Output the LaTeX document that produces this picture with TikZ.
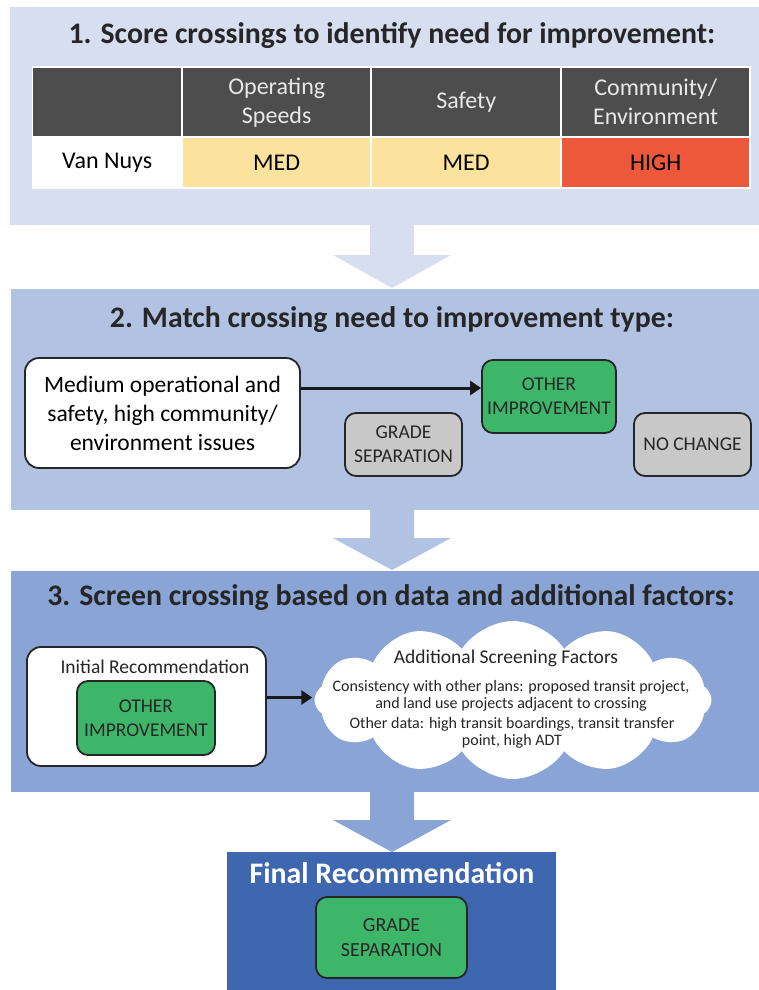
\documentclass[tikz,border=0pt]{standalone}
\usepackage{fontspec}
\setmainfont{Carlito}
\usetikzlibrary{shapes.symbols,arrows.meta}
\definecolor{pone}{RGB}{215,222,240}
\definecolor{ptwo}{RGB}{178,194,227}
\definecolor{pthree}{RGB}{138,164,214}
\definecolor{pfinal}{RGB}{63,103,176}
\definecolor{hdr}{RGB}{77,77,77}
\definecolor{hdrtext}{RGB}{232,232,232}
\definecolor{cyellow}{RGB}{252,227,157}
\definecolor{cred}{RGB}{238,88,58}
\definecolor{cgreen}{RGB}{61,182,106}
\definecolor{cgrey}{RGB}{200,200,200}
\definecolor{tdark}{RGB}{38,38,38}
\begin{document}
\begin{tikzpicture}[x=1pt,y=-1pt,
  panel/.style={inner sep=0pt, anchor=north west},
  ttl/.style={font=\bfseries\fontsize{29.8}{35}\selectfont, text=tdark, inner sep=0pt},
  cell/.style={inner sep=0pt, anchor=north west, align=center, font=\fontsize{24}{29}\selectfont},
  rbox/.style={draw=tdark, line width=1.8pt, rounded corners=11pt, align=center, inner sep=2pt},
  gbox/.style={rbox, fill=cgreen, text=tdark, font=\fontsize{19.5}{24}\selectfont},
  greybox/.style={rbox, fill=cgrey, text=tdark, font=\fontsize{19.5}{24}\selectfont},
  conn/.style={line width=3pt, draw=black!90, -{Triangle[length=11pt,width=14pt]}},
  small/.style={font=\fontsize{16}{17}\selectfont, align=center, inner sep=0pt, text=tdark}
]
\useasboundingbox (0,0) rectangle (759,990);
\fill[white] (0,0) rectangle (759,990);

% panels
\node[panel, fill=pone, minimum width=749pt, minimum height=218pt] (p1) at (10,7) {};
\node[panel, fill=ptwo, minimum width=748pt, minimum height=221pt] (p2) at (11,289) {};
\node[panel, fill=pthree, minimum width=748pt, minimum height=221pt] (p3) at (11,571) {};
\node[panel, fill=pfinal, minimum width=329pt, minimum height=140pt] (pf) at (227,852) {};

% big arrows
\fill[pone] (370,224) -- (414,224) -- (414,255) -- (451,255) -- (392,288) -- (333,255) -- (370,255) -- cycle;
\fill[ptwo] (370,509) -- (414,509) -- (414,538) -- (451,538) -- (392,570) -- (333,538) -- (370,538) -- cycle;
\fill[pthree] (370,791) -- (414,791) -- (414,820) -- (451,820) -- (392,852) -- (333,820) -- (370,820) -- cycle;

% titles
\node[ttl] (t1) at (392,36) {1. Score crossings to identify need for improvement:};
\node[ttl] (t2) at (392,320) {2. Match crossing need to improvement type:};
\node[ttl] (t3) at (391,598) {3. Screen crossing based on data and additional factors:};
\node[ttl, text=white] (tf) at (392,873) {Final Recommendation};

% table
\fill[white] (31.5,66.5) rectangle (750.5,188.5);
\node[cell, fill=hdr, minimum width=148pt, minimum height=68pt] (h0) at (33,68) {};
\node[cell, fill=hdr, text=hdrtext, minimum width=187pt, minimum height=68pt] (h1) at (183,68) {Operating\\Speeds};
\node[cell, fill=hdr, text=hdrtext, minimum width=188pt, minimum height=68pt] (h2) at (372,68) {Safety};
\node[cell, fill=hdr, text=hdrtext, minimum width=187pt, minimum height=68pt] (h3) at (562,68) {Community/\\Environment};
\node[cell, fill=white, text=black, minimum width=148pt, minimum height=49pt] (d0) at (33,138) {Van Nuys};
\node[cell, fill=cyellow, text=black, minimum width=187pt, minimum height=49pt] (d1) at (183,138) {MED};
\node[cell, fill=cyellow, text=black, minimum width=188pt, minimum height=49pt] (d2) at (372,138) {MED};
\node[cell, fill=cred, text=black, minimum width=187pt, minimum height=49pt] (d3) at (562,138) {HIGH};

% section 2
\node[rbox, fill=white, minimum width=275pt, minimum height=110pt, rounded corners=14pt,
      font=\fontsize{23.5}{29}\selectfont, text=black] (med) at (162.5,413)
      {Medium operational and\\safety, high community/\\environment issues};
\node[gbox, minimum width=134pt, minimum height=73pt] (other) at (549,396.5) {OTHER\\IMPROVEMENT};
\node[greybox, minimum width=117pt, minimum height=63pt] (grade) at (403.5,444.5) {GRADE\\SEPARATION};
\node[greybox, minimum width=117pt, minimum height=63pt] (nochange) at (692.5,444.5) {NO CHANGE};
\draw[conn] ([yshift=25pt]med.east) coordinate (a1) -- (a1 -| other.west);

% section 3
\node[cloud, cloud puffs=12, cloud puff arc=115, aspect=2.5, fill=white, draw=none,
      minimum width=397pt, minimum height=158pt, inner sep=0pt] (cloud) at (513,700) {};
\node[rbox, fill=white, minimum width=239pt, minimum height=119pt, rounded corners=14pt] (initrec) at (146.5,706.5) {};
\node[font=\fontsize{19.5}{24}\selectfont, text=tdark, inner sep=0pt] (initlbl) at (155,667) {Initial Recommendation};
\node[gbox, minimum width=138pt, minimum height=74pt] (other3) at (146,718) {OTHER\\IMPROVEMENT};
\draw[conn, shorten >=2pt] ([yshift=9pt]initrec.east) coordinate (a3) -- (a3 -| cloud.west);
\node[font=\fontsize{19.5}{24}\selectfont, text=tdark, inner sep=0pt] (cloudttl) at (506,658) {Additional Screening Factors};
\node[small] (cons) at (511,695.5) {Consistency with other plans: proposed transit project,\\and land use projects adjacent to crossing};
\node[small] (odata) at (512,733) {Other data: high transit boardings, transit transfer\\point, high ADT};

% final
\node[gbox, minimum width=151pt, minimum height=81pt, font=\fontsize{20}{25}\selectfont] (gradef) at (391.5,937.5) {GRADE\\SEPARATION};
\end{tikzpicture}
\end{document}
